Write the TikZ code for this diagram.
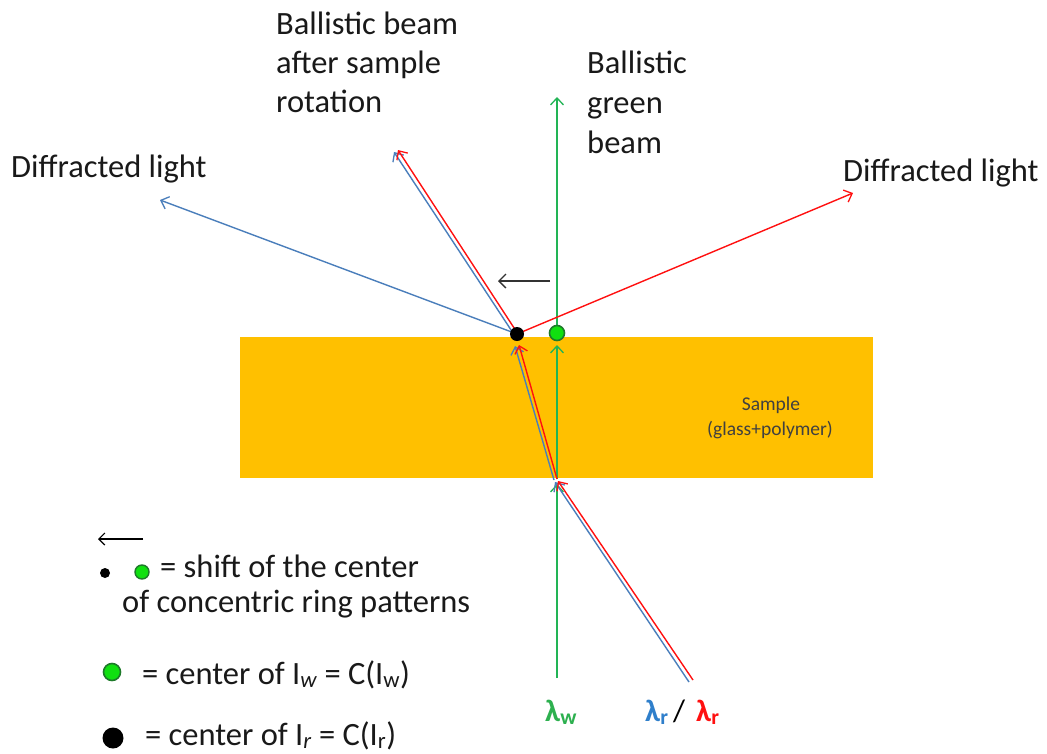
\documentclass[tikz,border=0pt]{standalone}
\usepackage{fontspec}
\setmainfont{Carlito}
\usetikzlibrary{arrows.meta}
\definecolor{beamblue}{HTML}{4A7EBB}
\definecolor{beamred}{HTML}{FF1010}
\definecolor{beamgreen}{HTML}{22B455}
\definecolor{sampleorange}{HTML}{FFC000}
\definecolor{dotgreen}{HTML}{10E010}
\definecolor{dotrim}{HTML}{1E7A2A}
\definecolor{lamgreen}{HTML}{2DB04F}
\definecolor{lamblue}{HTML}{2F7FCB}
\begin{document}
\begin{tikzpicture}[x=1pt,y=-1pt,
  tip/.style={-{Straight Barb[length=7pt,width=13pt,line width=1.3pt]}},
  beam/.style={line width=1.4pt, tip},
  bl/.style={beam, draw=beamblue},
  rd/.style={beam, draw=beamred},
  gr/.style={beam, draw=beamgreen},
  big/.style={font=\fontsize{32.5}{39}\selectfont, inner sep=0pt, anchor=base west, text=black!90},
  small/.style={font=\fontsize{19.5}{25}\selectfont, inner sep=0pt, anchor=base, text=black!75},
  lam/.style={font=\fontsize{31}{36}\selectfont\bfseries, inner sep=0pt, anchor=base west},
  blackdot/.style={circle, fill=black, inner sep=0pt},
  greendot/.style={circle, fill=dotgreen, draw=dotrim, line width=1.6pt, inner sep=0pt},
  shiftarrow/.style={line width=1.5pt, draw=black!80, -{Straight Barb[length=7pt,width=14pt,line width=1.3pt]}}
]
\useasboundingbox (0,0) rectangle (1047,753);
\fill[white] (0,0) rectangle (1047,753);

% sample
\node[fill=sampleorange, inner sep=0pt, minimum width=633pt, minimum height=141pt, anchor=north west] (sample) at (240,337) {};
\node[small] (samplelbl1) at (771,410) {Sample};
\node[small] (samplelbl2) at (770,435) {(glass+polymer)};

% coordinates
\coordinate (Gstart) at (557,678);
\coordinate (Gentry) at (557,484);
\coordinate (Gin) at (557,479);
\coordinate (Gtopin) at (557,345);
\coordinate (Gexit) at (557,334);
\coordinate (Gtip) at (557,97);

\coordinate (Rstart) at (693,680);
\coordinate (Rentry) at (558,481);
\coordinate (Rin) at (557,479);
\coordinate (Rtopin) at (519,345);
\coordinate (Rexit) at (518,334);
\coordinate (Rtip) at (398,150);

\coordinate (Bstart) at (689,682);
\coordinate (Bentry) at (555,482);
\coordinate (Bin) at (554,480);
\coordinate (Btopin) at (515,346);
\coordinate (Bexit) at (515,336);
\coordinate (Btip) at (394,152);

\coordinate (C) at (517,334);
\coordinate (Dleft) at (160,200);
\coordinate (Dright) at (853,193);

% green beam
\draw[gr] (Gstart) -- (Gentry);
\draw[gr] (Gin) -- (Gtopin);
\draw[gr] (Gexit) -- (Gtip);

% blue beam
\draw[bl] (Bstart) -- (Bentry);
\draw[bl] (Bin) -- (Btopin);
\draw[bl] (Bexit) -- (Btip);
\draw[bl] (C) -- (Dleft);

% red beam
\draw[rd] (Rstart) -- (Rentry);
\draw[rd] (Rin) -- (Rtopin);
\draw[rd] (Rexit) -- (Rtip);
\draw[rd] (C) -- (Dright);

% shift arrow
\coordinate (Sa) at (550,281);
\coordinate (Sb) at (498,281);
\draw[shiftarrow] (Sa) -- (Sb);

% dots
\node[blackdot, minimum size=14pt] (cr) at (C) {};
\node[greendot, minimum size=15pt] (cw) at (557,333) {};

% labels
\node[big] (dl) at (11,177) {Diffracted light};
\node[big] (dr) at (843,181) {Diffracted light};
\node[big] (bb1) at (276,34) {Ballistic beam};
\node[big] (bb2) at (276,73) {after sample};
\node[big] (bb3) at (276,112) {rotation};
\node[big] (gb1) at (587,73) {Ballistic};
\node[big] (gb2) at (587,113) {green};
\node[big] (gb3) at (587,153) {beam};

% lambda labels
\node[lam, text=lamgreen] (lw) at (545,721) {λ\textsubscript{w}};
\node[lam, text=lamblue] (lr1) at (645,721) {λ\textsubscript{r}};
\node[lam, text=black, font=\fontsize{31}{36}\selectfont] (sl) at (673,721) {/};
\node[lam, text=beamred] (lr2) at (696,721) {λ\textsubscript{r}};

% legend
\coordinate (La) at (143,539);
\coordinate (Lb) at (98,539);
\draw[line width=1.3pt, draw=black, -{Straight Barb[length=6pt,width=12pt,line width=1.2pt]}] (La) -- (Lb);
\node[blackdot, minimum size=10pt] (ld1) at (105,573) {};
\node[greendot, minimum size=14pt, line width=1.4pt] (ld2) at (142,572) {};
\node[big] (lt1) at (160,577) {= shift of the center};
\node[big] (lt2) at (122,612) {of concentric ring patterns};
\node[greendot, minimum size=17pt] (ld3) at (112,672) {};
\node[big] (lt3) at (142,684) {= center of I\textsubscript{\itshape w} = C(I\textsubscript{w})};
\node[blackdot, minimum size=21pt] (ld4) at (113,738) {};
\node[big] (lt4) at (145,745) {= center of I\textsubscript{\itshape r} = C(I\textsubscript{r})};
\end{tikzpicture}
\end{document}
